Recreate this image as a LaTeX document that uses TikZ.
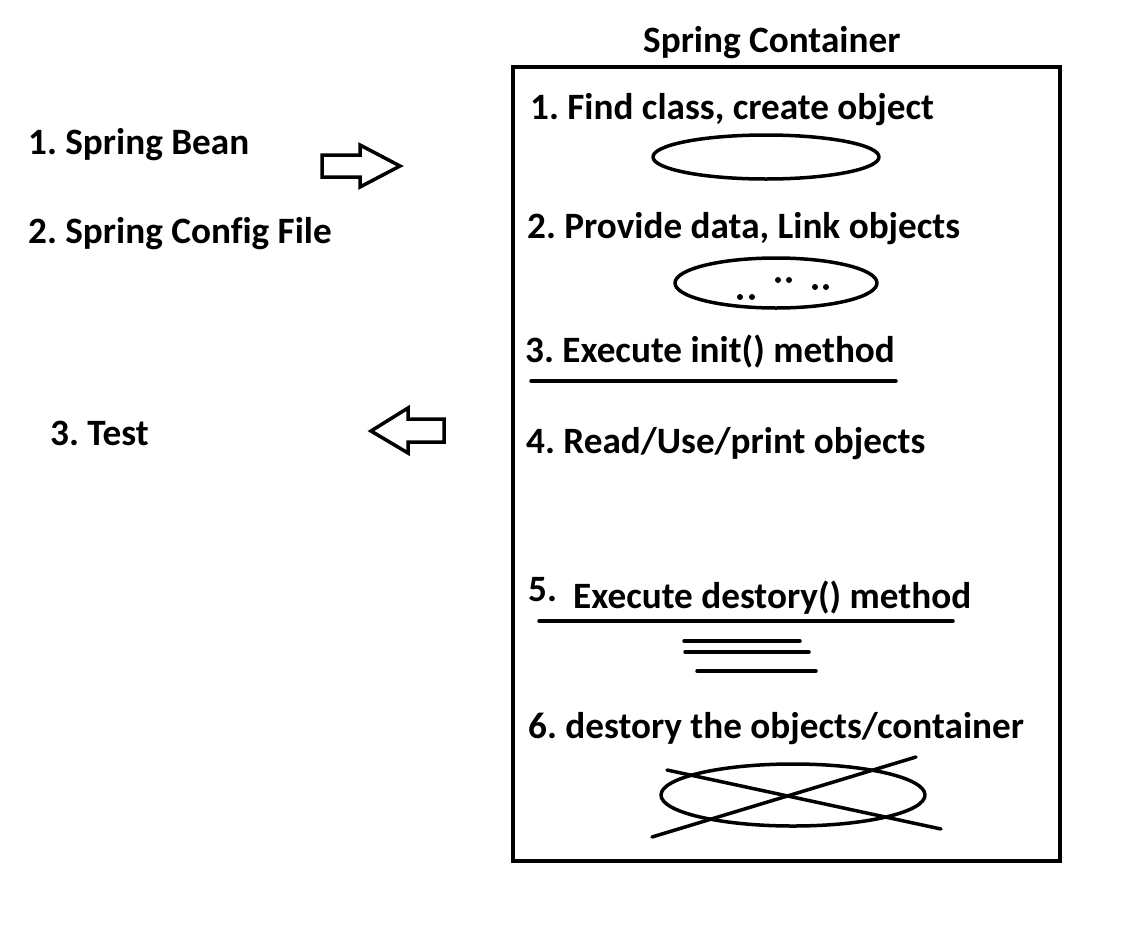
\documentclass[tikz,border=0pt]{standalone}
\usepackage{fontspec}
\setmainfont[Ligatures=NoCommon]{Carlito}
\begin{document}
\frenchspacing
\begin{tikzpicture}[x=1pt,y=-1pt,
  lbl/.style={anchor=base west,inner sep=0pt,font=\fontsize{37.2}{44}\selectfont\bfseries\frenchspacing},
  stroke/.style={line width=3.5pt,line cap=round,line join=round},
  dotmark/.style={fill=black}]
\useasboundingbox (0,0) rectangle (1128,938);
% left texts
\node[lbl] (bean) at (28,154) {1. Spring Bean};
\node[lbl] (cfg) at (28,243) {2. Spring Config File};
\node[lbl] (test) at (50,445) {3. Test};
% block arrows
\draw[stroke,line cap=butt,line join=miter] (322,155) -- (360,155) -- (360,145) -- (400,166) -- (360,187) -- (360,177) -- (322,177) -- cycle;
\draw[stroke,line cap=butt,line join=miter] (444,419) -- (408,419) -- (408,408) -- (371,431) -- (408,453) -- (408,442) -- (444,442) -- cycle;
% container
\node[lbl] (title) at (643,52) {Spring Container};
\draw[line width=4pt] (513,67) rectangle (1060,861);
\node[lbl] (s1) at (530,119) {1. Find class, create object};
\draw[stroke] (766,157) ellipse [x radius=113, y radius=22];
\node[lbl] (s2) at (527,238) {2. Provide data, Link objects};
\draw[stroke] (776,283) ellipse [x radius=101, y radius=25];
\foreach \p in {(740,297),(752,297),(778,280),(789,280),(815,287),(826,287)}
  \fill[dotmark] \p circle (3);
\node[lbl] (s3) at (525,362) {3. Execute init() method};
\draw[stroke] (531,381) -- (896,381);
\node[lbl] (s4) at (526,453) {4. Read/Use/print objects};
\node[lbl] (s5n) at (528,601) {5.};
\node[lbl] (s5) at (573,608) {Execute destory() method};
\draw[stroke] (539,621) -- (953,621);
\draw[stroke] (684,641) -- (800,641);
\draw[stroke] (685,652) -- (809,652);
\draw[stroke] (697,671) -- (816,671);
\node[lbl] (s6) at (528,738) {6. destory the objects/container};
\draw[stroke] (793,795) ellipse [x radius=132, y radius=31];
\draw[stroke] (667,770) -- (941,829);
\draw[stroke] (652,837) -- (916,757);
\end{tikzpicture}
\end{document}
